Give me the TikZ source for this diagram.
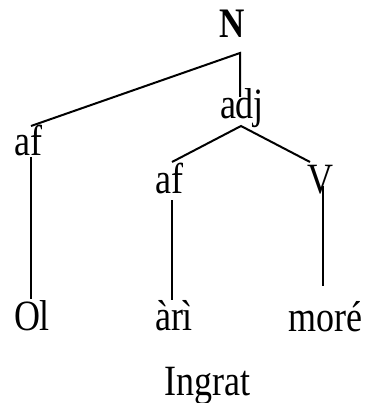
\documentclass[tikz,border=0pt]{standalone}
\usepackage{fontspec}
\setmainfont{Liberation Serif}
\newcommand{\tallt}[1]{\scalebox{1}[1.2]{#1}}
\begin{document}
\begin{tikzpicture}[x=1pt,y=-1pt,
  lbl/.style={anchor=base,inner sep=0pt,font=\fontsize{36}{40}\selectfont},
  edge/.style={line width=2pt}]
\useasboundingbox (0,0) rectangle (367,403);
% labels
\node[lbl,font=\fontsize{35}{40}\selectfont\bfseries] (N) at (232.5,38) {\tallt{N}};
\node[lbl] (adj) at (242,119) {\tallt{adj}};
\node[lbl] (af1) at (28.5,156) {\tallt{af}};
\node[lbl] (af2) at (169,193) {\tallt{af}};
\node[lbl] (V) at (320,193) {\tallt{V}};
\node[lbl] (Ol) at (32,330) {\tallt{Ol}};
\node[lbl] (ari) at (174,330) {\tallt{àrì}};
\node[lbl] (more) at (325,331) {\tallt{moré}};
\node[lbl] (ingrat) at (207.5,395) {\tallt{Ingrat}};
% joints
\coordinate (Nj) at (240,53);
\coordinate (adjt) at (240,97);
\coordinate (af1t) at (31,126);
\coordinate (adjb) at (241,126);
\coordinate (af2t) at (172,162);
\coordinate (Vt) at (310,162);
\coordinate (af1b) at (31,157);
\coordinate (Olt) at (31,299);
\coordinate (af2b) at (172,200);
\coordinate (arit) at (172,300);
\coordinate (Vb) at (323,186);
\coordinate (moret) at (323,286);
% edges
\draw[edge] (af1t) -- (Nj) -- (adjt);
\draw[edge] (af2t) -- (adjb) -- (Vt);
\draw[edge] (af1b) -- (Olt);
\draw[edge] (af2b) -- (arit);
\draw[edge] (Vb) -- (moret);
\end{tikzpicture}
\end{document}
